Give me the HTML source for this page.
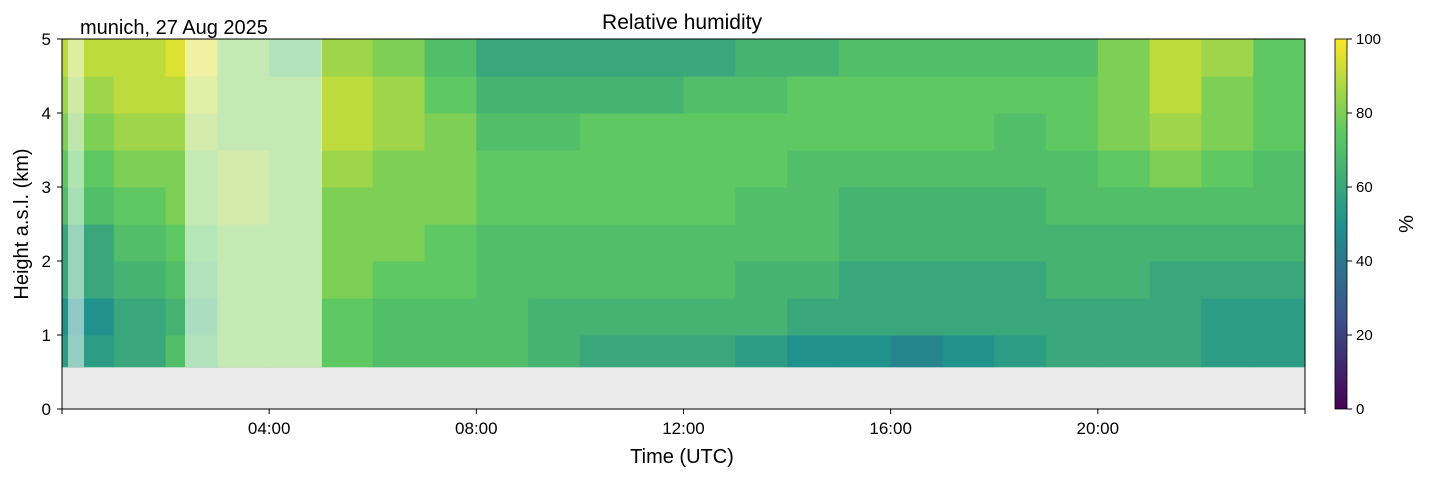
<!DOCTYPE html>
<html><head><meta charset="utf-8"><style>
body{margin:0;background:#fff;font-family:"Liberation Sans",sans-serif}
svg text{font-family:"Liberation Sans",sans-serif}
</style></head><body>
<svg id="c" width="1429" height="478" xmlns="http://www.w3.org/2000/svg">
<rect x="62" y="39" width="1243" height="370" fill="#ebebeb"/>
<g id="cells"></g>
<rect x="68" y="39" width="16" height="328" fill="#fff" opacity="0.5"/>
<rect x="185" y="39" width="137" height="328" fill="#fff" opacity="0.55"/>
<rect x="62" y="39" width="1243" height="370" fill="none" stroke="#000" stroke-width="1"/>
<g id="axes"></g>
<text x="682" y="29" font-size="21" text-anchor="middle">Relative humidity</text>
<text x="80" y="34" font-size="20">munich, 27 Aug 2025</text>
<text x="682" y="463" font-size="20" text-anchor="middle">Time (UTC)</text>
<text transform="translate(28,224) rotate(-90)" font-size="20" text-anchor="middle">Height a.s.l. (km)</text>
<defs><linearGradient id="vir" x1="0" y1="1" x2="0" y2="0">
<stop offset="0" stop-color="#440154"/><stop offset="0.25" stop-color="#3b528b"/><stop offset="0.5" stop-color="#21918c"/><stop offset="0.75" stop-color="#5ec962"/><stop offset="1" stop-color="#fde725"/></linearGradient></defs>
<rect x="1335" y="39" width="12" height="370" fill="url(#vir)" stroke="#000" stroke-width="0.8"/>
<text transform="translate(1413,224) rotate(-90)" font-size="20" text-anchor="middle">%</text>
</svg>
<script>
const hours=[0,1,2,3,4,5,6,7,8,9,10,11,12,13,14,15,16,17,18,19,20,21,22,23];
const heights=[0.57,1.0,1.5,2.0,2.5,3.0,3.5,4.0,4.5,5.0];
const rh=[
[55,52,58,62,68,75,80,85,88],[62,58,65,70,75,80,85,88,92],[68,65,70,75,78,82,85,90,95],
[80,80,82,82,85,85,82,80,78],[82,80,80,80,82,82,80,78,72],[75,75,78,80,82,85,88,88,85],
[72,72,75,78,80,82,85,85,82],[70,72,75,75,78,80,78,75,68],[70,70,72,72,75,75,72,65,60],
[65,66,70,72,75,75,72,65,58],[62,66,70,72,75,76,74,66,58],[62,66,70,72,75,76,74,66,58],
[62,66,70,72,75,76,75,68,60],[56,64,66,70,72,75,75,72,64],[48,60,64,68,70,72,75,74,66],
[48,58,62,64,66,72,75,76,70],[45,58,62,64,66,70,74,76,72],[50,58,62,64,66,70,74,76,72],
[56,58,62,64,66,70,72,75,70],[60,60,64,66,70,72,76,76,72],[62,62,64,66,70,74,78,82,82],
[58,58,62,66,72,78,84,88,90],[56,56,62,66,72,76,80,82,85],[56,56,60,65,68,72,75,76,76]];
const xTicks=["04:00","08:00","12:00","16:00","20:00"];
const xTickHours=[4,8,12,16,20];
const yTicks=[0,1,2,3,4,5];
const cbTicks=[0,20,40,60,80,100];
const X=h=>62+h*(1243/24), Y=k=>409-k*74, CY=v=>409-v*3.7;
const stops=[[68,1,84],[59,82,139],[33,145,140],[94,201,98],[253,231,37]];
function vir(v){v=Math.max(0,Math.min(100,Math.round(v/5)*5))/25;const i=Math.min(3,Math.floor(v)),t=v-i,a=stops[i],b=stops[i+1];
return `rgb(${a.map((c,j)=>Math.round(c+(b[j]-c)*t)).join(',')})`;}
const NS="http://www.w3.org/2000/svg",g=document.getElementById('cells'),ax=document.getElementById('axes');
hours.forEach((h,i)=>rh[i].forEach((v,j)=>{const r=document.createElementNS(NS,'rect');
r.setAttribute('x',X(h));r.setAttribute('width',X(h+1)-X(h)+0.5);r.setAttribute('y',Y(heights[j+1]));r.setAttribute('height',Y(heights[j])-Y(heights[j+1])+0.5);r.setAttribute('fill',vir(v));


g.appendChild(r);}));
function line(x1,y1,x2,y2){const l=document.createElementNS(NS,'line');l.setAttribute('x1',x1);l.setAttribute('y1',y1);l.setAttribute('x2',x2);l.setAttribute('y2',y2);l.setAttribute('stroke','#000');return l;}
function txt(x,y,s,anc){const t=document.createElementNS(NS,'text');t.setAttribute('x',x);t.setAttribute('y',y);t.setAttribute('font-size','17');t.setAttribute('text-anchor',anc);t.textContent=s;return t;}
xTicks.forEach((s,i)=>{const x=X(xTickHours[i]);const l=line(x,409,x,414);ax.appendChild(l);
const t=txt(x,434,s,'middle');ax.appendChild(t);});
[0,24].forEach(h=>{const l=line(X(h),409,X(h),414);ax.appendChild(l);});
yTicks.forEach(k=>{const y=Y(k);const l=line(57,y,62,y);ax.appendChild(l);
const t=txt(51,y+6,String(k),'end');ax.appendChild(t);});
cbTicks.forEach(v=>{const y=CY(v);const l=line(1347,y,1352,y);ax.appendChild(l);
const t=txt(1356,y+5,String(v),'start');t.setAttribute('font-size','15');ax.appendChild(t);});
</script>
</body></html>
